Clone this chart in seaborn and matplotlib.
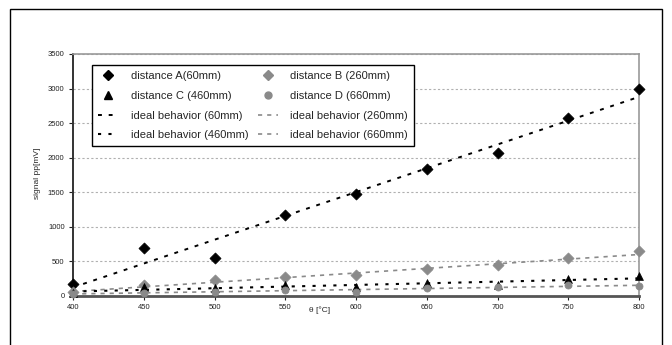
import matplotlib
matplotlib.use("Agg")
import matplotlib.pyplot as plt
import seaborn as sns
import pandas as pd
from matplotlib.lines import Line2D
from matplotlib.patches import Rectangle

# Measured signal amplitude vs. temperature for four distances
theta = [400, 450, 500, 550, 600, 650, 700, 750, 800]
dist_a = [170, 690, 555, 1170, 1470, 1840, 2075, 2575, 3000]
dist_b = [60, 160, 225, 275, 300, 385, 450, 545, 650]
dist_c = [45, 125, 110, 160, 135, 195, 160, 240, 285]
dist_d = [35, 40, 60, 85, 60, 120, 130, 155, 150]

# Ideal (linear) behaviour, end points at 400 and 800 °C
ideal_theta = [400, 800]
ideal_a = [125, 2880]
ideal_b = [65, 600]
ideal_c = [65, 255]
ideal_d = [30, 155]

y_ticks = [0, 500, 1000, 1500, 2000, 2500, 3000, 3500]
x_ticks = theta

sns.set_theme(style="white")
plt.rcParams["font.family"] = ["Liberation Sans", "DejaVu Sans"]

fig = plt.figure(figsize=(6.72, 3.45), dpi=100)
ax = fig.add_axes([73 / 672, 1 - 296 / 345, 566 / 672, 242 / 345])

GRAY = "#8a8a8a"
series = [
    ("distance A(60mm)", dist_a, "D", "black", 32),
    ("distance B (260mm)", dist_b, "D", GRAY, 32),
    ("distance C (460mm)", dist_c, "^", "black", 32),
    ("distance D (660mm)", dist_d, "o", GRAY, 26),
]
ideals = [
    ("ideal behavior (60mm)", ideal_a, "black", (0, (2, 3.5)), 1.4),
    ("ideal behavior (260mm)", ideal_b, GRAY, (0, (2.5, 3)), 1.2),
    ("ideal behavior (460mm)", ideal_c, "black", (0, (1.5, 3.5)), 1.5),
    ("ideal behavior (660mm)", ideal_d, GRAY, (0, (2.5, 3)), 1.2),
]

for label, vals, col, ls, lw in ideals:
    sns.lineplot(x=ideal_theta, y=vals, ax=ax, color=col, linestyle=ls,
                 linewidth=lw, zorder=2, legend=False)

for label, vals, mk, col, s in series:
    df = pd.DataFrame({"theta": theta, "signal": vals})
    sns.scatterplot(data=df, x="theta", y="signal", ax=ax, marker=mk,
                    color=col, s=s, edgecolor=col, linewidth=0.5,
                    zorder=4, clip_on=False, legend=False)

ax.set_xlim(400, 800)
ax.set_ylim(0, 3500)
ax.set_xticks(x_ticks)
ax.set_yticks(y_ticks)
ax.tick_params(axis="both", labelsize=5.5, length=3, width=0.8,
               direction="out", colors="#222222", pad=3,
               bottom=True, left=True)

ax.yaxis.grid(True, linestyle=(0, (2, 2)), color="#b0b0b0", linewidth=0.8)
ax.xaxis.grid(False)
ax.set_axisbelow(True)

for side in ("top", "right"):
    ax.spines[side].set_color("#999999")
    ax.spines[side].set_linewidth(1.2)
ax.spines["left"].set_color("#333333")
ax.spines["left"].set_linewidth(1.4)
ax.spines["bottom"].set_color("#555555")
ax.spines["bottom"].set_linewidth(2.0)

ax.set_xlabel("θ [°C]", fontsize=6, va="center")
ax.xaxis.set_label_coords(0.435, -0.058)
ax.set_ylabel("signal pp[mV]", fontsize=6, va="center")
ax.yaxis.set_label_coords(-0.062, 0.508)

handles = {}
for label, vals, mk, col, s in series:
    handles[label] = Line2D([], [], linestyle="none", marker=mk, color=col,
                            markersize=5.5 if mk != "o" else 5)
for label, vals, col, ls, lw in ideals:
    handles[label] = Line2D([], [], color=col, linestyle=ls, linewidth=lw)

order = ["distance A(60mm)", "distance C (460mm)", "ideal behavior (60mm)",
         "ideal behavior (460mm)", "distance B (260mm)", "distance D (660mm)",
         "ideal behavior (260mm)", "ideal behavior (660mm)"]
leg = ax.legend([handles[k] for k in order], order, ncol=2, loc="upper left",
                bbox_to_anchor=(0.034, 0.955), borderaxespad=0,
                fontsize=8, frameon=True, fancybox=False, framealpha=1,
                edgecolor="black", handlelength=1.8, handletextpad=1.1,
                columnspacing=0.9, labelspacing=0.88, borderpad=0.55)
leg.get_frame().set_linewidth(1.0)

# Outer chart frame
fig.patches.append(Rectangle((10 / 672, -0.05), 652 / 672, 1.05 - 9 / 345,
                             transform=fig.transFigure, fill=False,
                             edgecolor="black", linewidth=1.0))

fig.savefig("out.png", dpi=100)
